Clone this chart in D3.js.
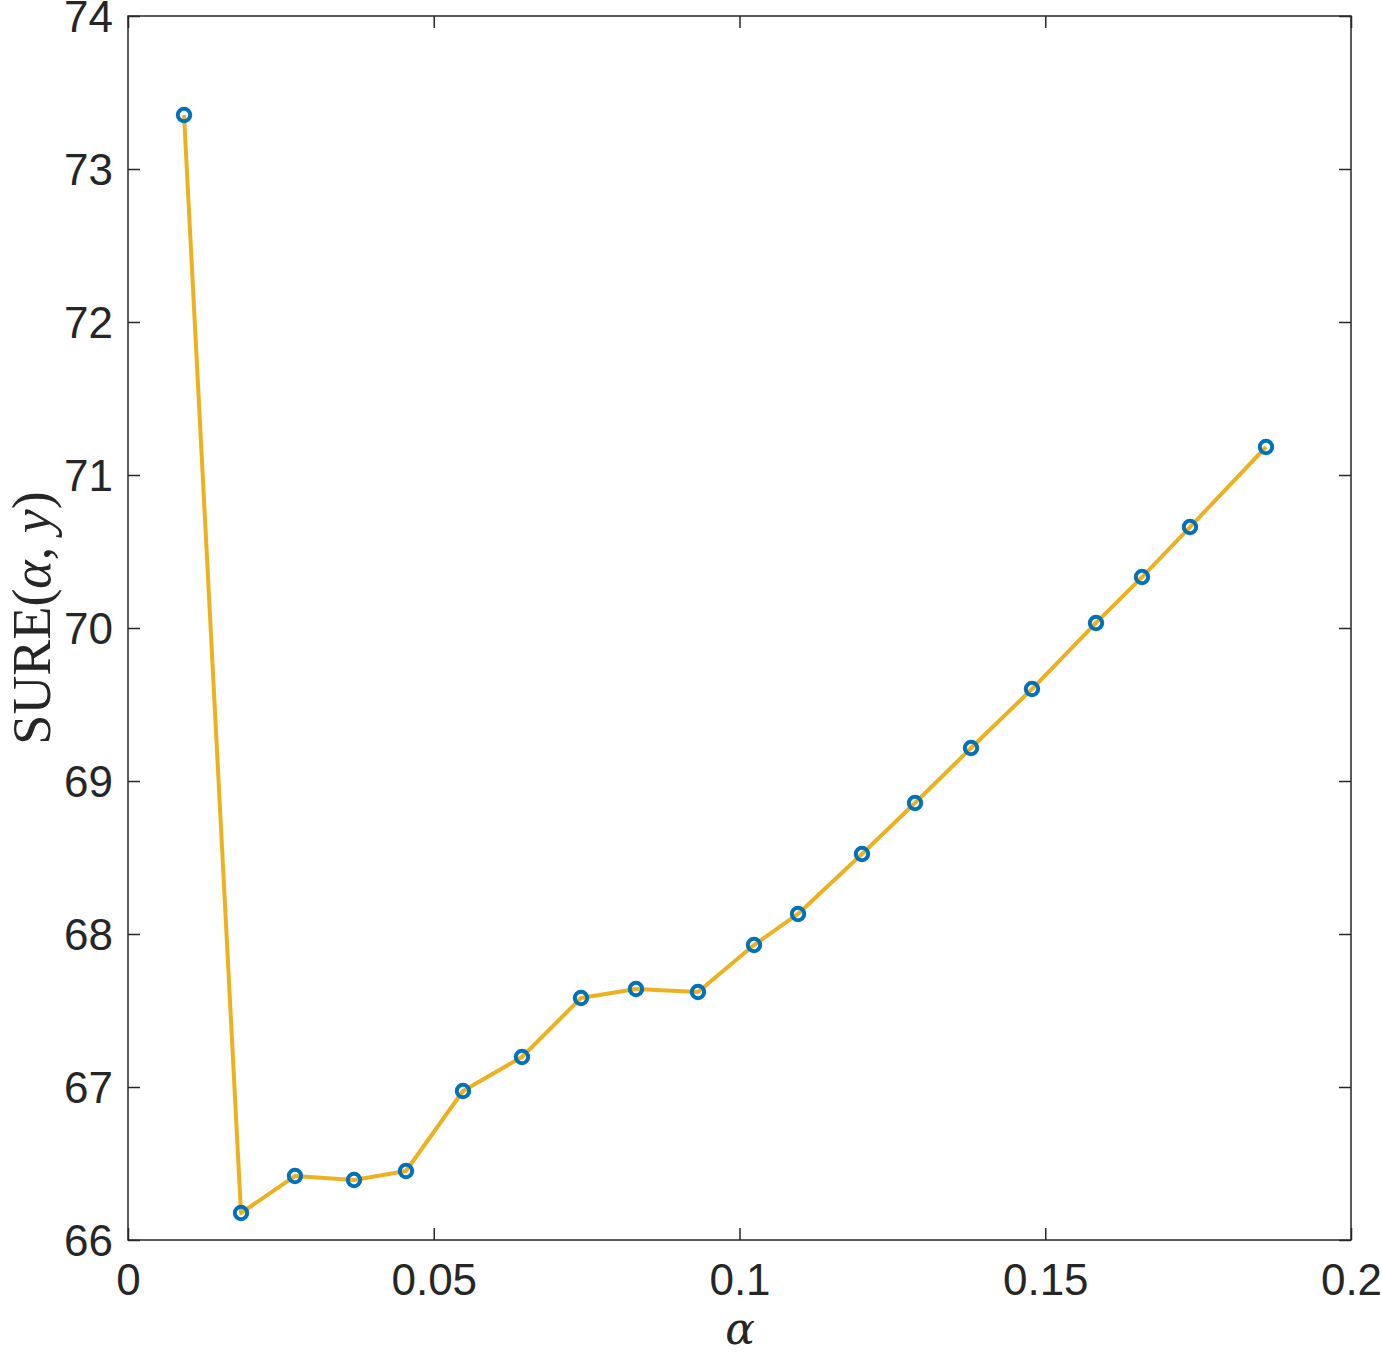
<!DOCTYPE html>
<html><head><meta charset="utf-8">
<script src="https://cdn.jsdelivr.net/npm/d3@7"></script>
<style>body{margin:0;background:#fff}</style>
</head><body>
<svg id="c" width="1382" height="1353"></svg>
<script>
const alphaValues = [0.00916,0.01848,0.0273,0.03696,0.04546,0.05478,0.06443,0.07408,0.08307,0.09321,0.10237,0.10957,0.12003,0.1287,0.13786,0.14783,0.1583,0.16582,0.17367,0.1861];
const sureValues = [73.353,66.176,66.418,66.392,66.451,66.974,67.196,67.582,67.641,67.621,67.928,68.131,68.523,68.856,69.216,69.601,70.033,70.333,70.66,71.183];
const xTicks = [0,0.05,0.1,0.15,0.2];
const xTickLabels = ["0","0.05","0.1","0.15","0.2"];
const yTicks = [66,67,68,69,70,71,72,73,74];

const svg = d3.select("#c");
const L=128,T=16,R=1351,B=1240;
const x = d3.scaleLinear().domain([0,0.2]).range([L,R]);
const y = d3.scaleLinear().domain([66,74]).range([B,T]);
const axisColor="#262626";
const font="'Liberation Sans', Arial, sans-serif";

svg.append("rect").attr("x",L).attr("y",T).attr("width",R-L).attr("height",B-T)
  .attr("fill","none").attr("stroke",axisColor).attr("stroke-width",1.5);

const tl=12;
const gb = svg.append("g").attr("transform",`translate(0,${B})`)
  .call(d3.axisBottom(x).tickValues(xTicks).tickFormat((d,i)=>xTickLabels[i]).tickSizeInner(-tl).tickSizeOuter(0).tickPadding(24));
const gt = svg.append("g").attr("transform",`translate(0,${T})`)
  .call(d3.axisTop(x).tickValues(xTicks).tickFormat("").tickSizeInner(-tl).tickSizeOuter(0));
const gl = svg.append("g").attr("transform",`translate(${L},0)`)
  .call(d3.axisLeft(y).tickValues(yTicks).tickFormat(d3.format("d")).tickSizeInner(-tl).tickSizeOuter(0).tickPadding(15));
const gr = svg.append("g").attr("transform",`translate(${R},0)`)
  .call(d3.axisRight(y).tickValues(yTicks).tickFormat("").tickSizeInner(-tl).tickSizeOuter(0));
[gb,gt,gl,gr].forEach(g=>{
  g.select(".domain").remove();
  g.selectAll(".tick line").attr("stroke",axisColor).attr("stroke-width",1.5);
  g.selectAll(".tick text").attr("fill",axisColor).style("font-family",font).style("font-size","44px");
});
gb.selectAll(".tick text").attr("dy","0.71em");
gl.selectAll(".tick text").attr("dy","0.35em");

svg.append("path").datum(alphaValues.map((a,i)=>[a,sureValues[i]]))
  .attr("d",d3.line().x(d=>x(d[0])).y(d=>y(d[1])))
  .attr("fill","none").attr("stroke","#EDB120").attr("stroke-width",4).attr("stroke-linejoin","round");
svg.append("g").selectAll("circle").data(alphaValues.map((a,i)=>[a,sureValues[i]])).join("circle")
  .attr("cx",d=>x(d[0])).attr("cy",d=>y(d[1])).attr("r",6.2)
  .attr("fill","none").attr("stroke","#0072BD").attr("stroke-width",4);

svg.append("text").attr("x",740).attr("y",1344).attr("text-anchor","middle")
  .style("font-family","'DejaVu Serif','Liberation Serif',serif").style("font-style","italic").style("font-size","44px")
  .attr("fill",axisColor).text("α");
const yl = svg.append("text").attr("transform","translate(50,618) rotate(-90)").attr("text-anchor","middle")
  .style("font-family","'Liberation Serif','DejaVu Serif',serif").style("font-size","54px").attr("fill",axisColor);
yl.append("tspan").text("SURE(");
yl.append("tspan").style("font-style","italic").text("α");
yl.append("tspan").text(", ");
yl.append("tspan").style("font-style","italic").text("y");
yl.append("tspan").text(")");
</script>
</body></html>
